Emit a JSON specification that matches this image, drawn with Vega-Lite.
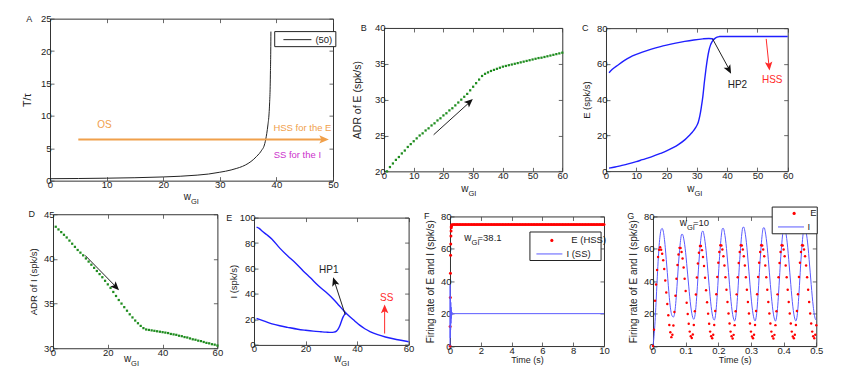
{
"$schema": "https://vega.github.io/schema/vega-lite/v6.json",
"autosize": {"type": "none"},
"padding": {"left": 0, "top": 18.65, "right": 864, "bottom": 368},
"background": "white",
"config": {
  "font": "Liberation Sans",
  "view": {"stroke": "#333333", "strokeWidth": 1},
  "axis": {"domain": false, "grid": false, "tickSize": -4, "tickColor": "#444444", "tickWidth": 0.8, "labelFont": "Liberation Sans", "labelFontSize": 9.5, "labelColor": "#222222", "labelPadding": 3, "labelFlush": false, "labelOverlap": false, "titleFont": "Liberation Sans", "titleFontSize": 10.5, "titleFontWeight": "normal", "titleColor": "#222222"},
  "axisX": {"titleFontSize": 9},
  "legend": {"labelFont": "Liberation Sans", "labelFontSize": 9.5, "labelColor": "#222222", "padding": 0, "title": null},
  "text": {"font": "Liberation Sans", "fontSize": 9.5}
},
"spacing": -1.4,
"resolve": {"scale": {"color": "independent", "stroke": "independent"}},
"vconcat": [
 {
  "spacing": 0, "bounds": "flush", "center": true,
  "resolve": {"scale": {"color": "independent", "stroke": "independent"}},
  "hconcat": [
   {"width": 49.3, "height": 1, "view": {"stroke": null}, "data": {"values": [{}]}, "mark": {"type": "text", "text": " ", "align": "left"}, "encoding": {}},
   {
    "width": 283, "height": 162,
    "resolve": {"axis": {"x": "independent", "y": "independent"}},
    "layer": [
     {"data": {"values": [{"w":0,"T":0.3},{"w":5,"T":0.33},{"w":10,"T":0.38},{"w":15,"T":0.45},{"w":20,"T":0.57},{"w":23,"T":0.68},{"w":26,"T":0.85},{"w":28,"T":1.02},{"w":30,"T":1.3},{"w":31,"T":1.45},{"w":32,"T":1.65},{"w":33,"T":1.9},{"w":34,"T":2.2},{"w":35,"T":2.65},{"w":35.5,"T":2.95},{"w":36,"T":3.3},{"w":36.5,"T":3.75},{"w":37,"T":4.2},{"w":37.4,"T":4.7},{"w":37.8,"T":5.3},{"w":38.1,"T":6.3},{"w":38.3,"T":7.3},{"w":38.5,"T":8.6},{"w":38.7,"T":10.3},{"w":38.8,"T":12},{"w":38.9,"T":14.5},{"w":38.95,"T":17},{"w":39,"T":20},{"w":39.03,"T":23}]},
      "mark": {"type": "line", "strokeWidth": 1, "interpolate": "monotone"},
      "encoding": {
        "x": {"field": "w", "type": "quantitative", "scale": {"domain": [0, 50], "nice": false}, "axis": {"values": [0,10,20,30,40,50], "tickCount": 20, "format": "d", "title": null, "labelOverlap": false}},
        "y": {"field": "T", "type": "quantitative", "scale": {"domain": [0, 25], "nice": false}, "axis": {"values": [0,5,10,15,20,25], "tickCount": 20, "format": "d", "title": "T/τ", "titlePadding": 8, "labelOverlap": false}},
        "color": {"datum": "(50)", "scale": {"range": ["#222222"]}, "legend": {"orient": "none", "legendX": 241.9, "legendY": 15.5, "symbolType": "M-3,0H3", "symbolSize": 87, "symbolStrokeWidth": 1, "labelOffset": 12.5}}
      }},
     {"data": {"values": [{}]}, "mark": {"type": "point", "opacity": 0}, "encoding": {"x": {"datum": 0, "axis": {"orient": "top", "labels": false, "title": null, "values": [0,10,20,30,40,50], "tickCount": 20}}, "y": {"datum": 0, "axis": {"orient": "right", "labels": false, "title": null, "values": [0,5,10,15,20,25], "tickCount": 20}}}},
     {"data": {"values": [{}]}, "mark": {"type": "rect", "fill": "white", "stroke": "#222222", "strokeWidth": 1}, "encoding": {"x": {"datum": 39.7, "axis": null}, "x2": {"datum": 50.5}, "y": {"datum": 23.0, "axis": null}, "y2": {"datum": 20.68}}},
     {"data": {"values": [{}]}, "mark": {"type": "rule", "color": "#f0a04b", "strokeWidth": 2}, "encoding": {"x": {"datum": 5, "axis": null}, "y": {"datum": 6.35, "axis": null}, "x2": {"datum": 48.4}, "y2": {"datum": 6.35}}},
     {"data": {"values": [{}]}, "mark": {"type": "point", "shape": "M0,-1L0.75,0.75L0,0.35L-0.75,0.75Z", "filled": true, "opacity": 1, "color": "#f0a04b", "size": 121, "angle": 90}, "encoding": {"x": {"datum": 48.3, "axis": null}, "y": {"datum": 6.35, "axis": null}}},
     {"data": {"values": [{}]}, "mark": {"type": "text", "text": "OS", "color": "#f0a04b", "fontSize": 10}, "encoding": {"x": {"datum": 9.6, "axis": null}, "y": {"datum": 8.64, "axis": null}}},
     {"data": {"values": [{}]}, "mark": {"type": "text", "text": "HSS for the E", "color": "#f0a04b", "fontSize": 9.5}, "encoding": {"x": {"datum": 44.6, "axis": null}, "y": {"datum": 8.18, "axis": null}}},
     {"data": {"values": [{}]}, "mark": {"type": "text", "text": "SS for the I", "color": "#cc33cc", "fontSize": 9.5}, "encoding": {"x": {"datum": 43.7, "axis": null}, "y": {"datum": 4.0, "axis": null}}},
     {"data": {"values": [{}]}, "mark": {"type": "text", "text": "A", "color": "#222222", "fontSize": 9}, "encoding": {"x": {"datum": -3.67, "axis": null}, "y": {"datum": 25, "axis": null}}},
     {"data": {"values": [{}]}, "mark": {"type": "text", "text": "w", "align": "right", "baseline": "alphabetic", "color": "#222222", "fontSize": 10}, "encoding": {"x": {"datum": 24.9, "axis": null}, "y": {"datum": -2.95, "axis": null}}},
     {"data": {"values": [{}]}, "mark": {"type": "text", "text": "GI", "align": "left", "baseline": "alphabetic", "fontSize": 7.5, "dy": 4, "color": "#222222"}, "encoding": {"x": {"datum": 24.9, "axis": null}, "y": {"datum": -2.95, "axis": null}}}
    ]
   },
   {"width": 50.4, "height": 1, "view": {"stroke": null}, "data": {"values": [{}]}, "mark": {"type": "text", "text": " ", "align": "left"}, "encoding": {}},
   {
    "width": 178.3, "height": 143.4,
    "resolve": {"axis": {"x": "independent", "y": "independent"}},
    "layer": [
     {"data": {"values": [{"w":1,"r":20.0},{"w":2,"r":20.6},{"w":3,"r":21.1},{"w":4,"r":21.6},{"w":5,"r":22.0},{"w":6,"r":22.5},{"w":7,"r":22.9},{"w":8,"r":23.4},{"w":9,"r":23.8},{"w":10,"r":24.2},{"w":11,"r":24.6},{"w":12,"r":25.0},{"w":13,"r":25.3},{"w":14,"r":25.7},{"w":15,"r":26.0},{"w":16,"r":26.4},{"w":17,"r":26.7},{"w":18,"r":27.1},{"w":19,"r":27.4},{"w":20,"r":27.8},{"w":21,"r":28.1},{"w":22,"r":28.5},{"w":23,"r":28.8},{"w":24,"r":29.2},{"w":25,"r":29.6},{"w":26,"r":30.0},{"w":27,"r":30.4},{"w":28,"r":30.8},{"w":29,"r":31.3},{"w":30,"r":31.8},{"w":31,"r":32.3},{"w":32,"r":32.8},{"w":33,"r":33.3},{"w":34,"r":33.6},{"w":35,"r":33.8},{"w":36,"r":34.0},{"w":37,"r":34.15},{"w":38,"r":34.3},{"w":39,"r":34.45},{"w":40,"r":34.6},{"w":41,"r":34.7},{"w":42,"r":34.8},{"w":43,"r":34.9},{"w":44,"r":35.0},{"w":45,"r":35.1},{"w":46,"r":35.2},{"w":47,"r":35.3},{"w":48,"r":35.4},{"w":49,"r":35.5},{"w":50,"r":35.6},{"w":51,"r":35.7},{"w":52,"r":35.8},{"w":53,"r":35.85},{"w":54,"r":35.95},{"w":55,"r":36.05},{"w":56,"r":36.15},{"w":57,"r":36.25},{"w":58,"r":36.35},{"w":59,"r":36.45},{"w":60,"r":36.55}]},
      "mark": {"type": "point", "shape": "square", "filled": true, "opacity": 1, "size": 5, "color": "#1e8c1e"},
      "encoding": {
        "x": {"field": "w", "type": "quantitative", "scale": {"domain": [0, 60], "nice": false}, "axis": {"values": [0,10,20,30,40,50,60], "tickCount": 20, "format": "d", "title": null, "labelOverlap": false}},
        "y": {"field": "r", "type": "quantitative", "scale": {"domain": [20, 40], "nice": false, "zero": false}, "axis": {"values": [20,25,30,35,40], "tickCount": 20, "format": "d", "title": "ADR of E  (spk/s)", "titlePadding": 12, "labelOverlap": false}}
      }},
     {"data": {"values": [{}]}, "mark": {"type": "point", "opacity": 0}, "encoding": {"x": {"datum": 0, "axis": {"orient": "top", "labels": false, "title": null, "values": [0,10,20,30,40,50,60], "tickCount": 20}}, "y": {"datum": 20, "axis": {"orient": "right", "labels": false, "title": null, "values": [20,25,30,35,40], "tickCount": 20}}}},
     {"data": {"values": [{}]}, "mark": {"type": "rule", "color": "#222222", "strokeWidth": 1}, "encoding": {"x": {"datum": 16.7, "axis": null}, "y": {"datum": 25.1, "axis": null}, "x2": {"datum": 28.7}, "y2": {"datum": 29.6}}},
     {"data": {"values": [{}]}, "mark": {"type": "point", "shape": "M0,-1L0.75,0.75L0,0.35L-0.75,0.75Z", "filled": true, "opacity": 1, "color": "#111111", "size": 100, "angle": 47.6}, "encoding": {"x": {"datum": 28.65, "axis": null}, "y": {"datum": 29.63, "axis": null}}},
     {"data": {"values": [{}]}, "mark": {"type": "text", "text": "B", "color": "#222222", "fontSize": 9}, "encoding": {"x": {"datum": -6.8, "axis": null}, "y": {"datum": 40, "axis": null}}},
     {"data": {"values": [{}]}, "mark": {"type": "text", "text": "w", "align": "right", "baseline": "alphabetic", "color": "#222222", "fontSize": 10}, "encoding": {"x": {"datum": 28.4, "axis": null}, "y": {"datum": 17.1, "axis": null}}},
     {"data": {"values": [{}]}, "mark": {"type": "text", "text": "GI", "align": "left", "baseline": "alphabetic", "fontSize": 7.5, "dy": 4, "color": "#222222"}, "encoding": {"x": {"datum": 28.4, "axis": null}, "y": {"datum": 17.1, "axis": null}}}
    ]
   },
   {"width": 42.3, "height": 1, "view": {"stroke": null}, "data": {"values": [{}]}, "mark": {"type": "text", "text": " ", "align": "left"}, "encoding": {}},
   {
    "width": 181.7, "height": 143,
    "resolve": {"axis": {"x": "independent", "y": "independent"}},
    "layer": [
     {"data": {"values": [{"b":"l","w":1,"e":1.7},{"b":"l","w":3,"e":2.3},{"b":"l","w":5,"e":3.1},{"b":"l","w":7,"e":3.9},{"b":"l","w":10,"e":5.3},{"b":"l","w":12,"e":6.4},{"b":"l","w":15,"e":8},{"b":"l","w":18,"e":9.9},{"b":"l","w":20,"e":11.3},{"b":"l","w":22,"e":13},{"b":"l","w":24,"e":15},{"b":"l","w":26,"e":17.5},{"b":"l","w":27.5,"e":20},{"b":"l","w":28.5,"e":21.8},{"b":"l","w":29.7,"e":24.6},{"b":"l","w":30.5,"e":27.5},{"b":"l","w":31,"e":31},{"b":"l","w":31.5,"e":36},{"b":"l","w":32,"e":42},{"b":"l","w":32.5,"e":50},{"b":"l","w":33,"e":57},{"b":"l","w":33.5,"e":63},{"b":"l","w":34,"e":67.5},{"b":"l","w":34.5,"e":70.5},{"b":"l","w":35,"e":72.3},{"b":"l","w":35.5,"e":73.5},{"b":"l","w":36,"e":74.3},{"b":"l","w":36.5,"e":74.8},{"b":"l","w":37,"e":75.1},{"b":"l","w":37.5,"e":75.3},{"b":"l","w":40,"e":75.3},{"b":"l","w":50,"e":75.3},{"b":"l","w":60,"e":75.3},
       {"b":"u","w":1,"e":55},{"b":"u","w":2,"e":56.8},{"b":"u","w":4,"e":59.4},{"b":"u","w":6,"e":61.8},{"b":"u","w":8,"e":63.8},{"b":"u","w":10,"e":65.3},{"b":"u","w":12,"e":66.6},{"b":"u","w":15,"e":68.3},{"b":"u","w":18,"e":69.7},{"b":"u","w":20,"e":70.5},{"b":"u","w":23,"e":71.6},{"b":"u","w":26,"e":72.6},{"b":"u","w":29,"e":73.4},{"b":"u","w":32,"e":74},{"b":"u","w":34,"e":74.2},{"b":"u","w":35,"e":74.1},{"b":"u","w":35.5,"e":73.7}]},
      "mark": {"type": "line", "color": "#1f1fff", "strokeWidth": 1.4, "interpolate": "monotone"},
      "encoding": {
        "x": {"field": "w", "type": "quantitative", "scale": {"domain": [0, 60], "nice": false}, "axis": {"values": [0,10,20,30,40,50,60], "tickCount": 20, "format": "d", "title": null, "labelOverlap": false}},
        "y": {"field": "e", "type": "quantitative", "scale": {"domain": [0, 80], "nice": false}, "axis": {"values": [0,20,40,60,80], "tickCount": 20, "format": "d", "title": "E (spk/s)", "titleFontSize": 9.5, "titlePadding": 5, "labelOverlap": false}},
        "detail": {"field": "b"}
      }},
     {"data": {"values": [{}]}, "mark": {"type": "point", "opacity": 0}, "encoding": {"x": {"datum": 0, "axis": {"orient": "top", "labels": false, "title": null, "values": [0,10,20,30,40,50,60], "tickCount": 20}}, "y": {"datum": 0, "axis": {"orient": "right", "labels": false, "title": null, "values": [0,20,40,60,80], "tickCount": 20}}}},
     {"data": {"values": [{}]}, "mark": {"type": "rule", "color": "#222222", "strokeWidth": 1}, "encoding": {"x": {"datum": 35.2, "axis": null}, "y": {"datum": 74, "axis": null}, "x2": {"datum": 40.6}, "y2": {"datum": 57.2}}},
     {"data": {"values": [{}]}, "mark": {"type": "point", "shape": "M0,-1L0.75,0.75L0,0.35L-0.75,0.75Z", "filled": true, "opacity": 1, "color": "#111111", "size": 100, "angle": 152}, "encoding": {"x": {"datum": 40.53, "axis": null}, "y": {"datum": 56.97, "axis": null}}},
     {"data": {"values": [{}]}, "mark": {"type": "rule", "color": "#ff2a2a", "strokeWidth": 1}, "encoding": {"x": {"datum": 52.9, "axis": null}, "y": {"datum": 74, "axis": null}, "x2": {"datum": 53.8}, "y2": {"datum": 59.3}}},
     {"data": {"values": [{}]}, "mark": {"type": "point", "shape": "M0,-1L0.75,0.75L0,0.35L-0.75,0.75Z", "filled": true, "opacity": 1, "color": "#ff2a2a", "size": 100, "angle": 174}, "encoding": {"x": {"datum": 53.83, "axis": null}, "y": {"datum": 59.08, "axis": null}}},
     {"data": {"values": [{}]}, "mark": {"type": "text", "text": "HP2", "color": "#222222", "fontSize": 10}, "encoding": {"x": {"datum": 43.4, "axis": null}, "y": {"datum": 48.3, "axis": null}}},
     {"data": {"values": [{}]}, "mark": {"type": "text", "text": "HSS", "color": "#ff2a2a", "fontSize": 10}, "encoding": {"x": {"datum": 54.9, "axis": null}, "y": {"datum": 50.9, "axis": null}}},
     {"data": {"values": [{}]}, "mark": {"type": "text", "text": "C", "color": "#222222", "fontSize": 9}, "encoding": {"x": {"datum": -6.87, "axis": null}, "y": {"datum": 80, "axis": null}}},
     {"data": {"values": [{}]}, "mark": {"type": "text", "text": "w", "align": "right", "baseline": "alphabetic", "color": "#222222", "fontSize": 10}, "encoding": {"x": {"datum": 29.2, "axis": null}, "y": {"datum": -11.6, "axis": null}}},
     {"data": {"values": [{}]}, "mark": {"type": "text", "text": "GI", "align": "left", "baseline": "alphabetic", "fontSize": 7.5, "dy": 4, "color": "#222222"}, "encoding": {"x": {"datum": 29.2, "axis": null}, "y": {"datum": -11.6, "axis": null}}}
    ]
   }
  ]
 },
 {
  "spacing": 0, "bounds": "flush", "center": true,
  "resolve": {"scale": {"color": "independent", "stroke": "independent"}},
  "hconcat": [
   {"width": 52.3, "height": 1, "view": {"stroke": null}, "data": {"values": [{}]}, "mark": {"type": "text", "text": " ", "align": "left"}, "encoding": {}},
   {
    "width": 164.4, "height": 134,
    "resolve": {"axis": {"x": "independent", "y": "independent"}},
    "layer": [
     {"data": {"values": [{"w":1,"r":43.6},{"w":2,"r":43.3},{"w":3,"r":43.0},{"w":4,"r":42.7},{"w":5,"r":42.4},{"w":6,"r":42.05},{"w":7,"r":41.7},{"w":8,"r":41.35},{"w":9,"r":41.0},{"w":10,"r":40.7},{"w":11,"r":40.4},{"w":12,"r":40.05},{"w":13,"r":39.7},{"w":14,"r":39.35},{"w":15,"r":39.0},{"w":16,"r":38.65},{"w":17,"r":38.3},{"w":18,"r":37.95},{"w":19,"r":37.55},{"w":20,"r":37.15},{"w":21,"r":36.75},{"w":22,"r":36.3},{"w":23,"r":35.85},{"w":24,"r":35.4},{"w":25,"r":35.0},{"w":26,"r":34.6},{"w":27,"r":34.2},{"w":28,"r":33.8},{"w":29,"r":33.45},{"w":30,"r":33.1},{"w":31,"r":32.8},{"w":32,"r":32.5},{"w":33,"r":32.25},{"w":34,"r":32.1},{"w":35,"r":32.05},{"w":36,"r":32.0},{"w":37,"r":31.95},{"w":38,"r":31.9},{"w":39,"r":31.85},{"w":40,"r":31.8},{"w":41,"r":31.75},{"w":42,"r":31.7},{"w":43,"r":31.6},{"w":44,"r":31.55},{"w":45,"r":31.5},{"w":46,"r":31.4},{"w":47,"r":31.35},{"w":48,"r":31.25},{"w":49,"r":31.2},{"w":50,"r":31.1},{"w":51,"r":31.0},{"w":52,"r":30.95},{"w":53,"r":30.85},{"w":54,"r":30.8},{"w":55,"r":30.7},{"w":56,"r":30.6},{"w":57,"r":30.55},{"w":58,"r":30.45},{"w":59,"r":30.4},{"w":60,"r":30.3}]},
      "mark": {"type": "point", "shape": "square", "filled": true, "opacity": 1, "size": 5, "color": "#1e8c1e"},
      "encoding": {
        "x": {"field": "w", "type": "quantitative", "scale": {"domain": [0, 60], "nice": false}, "axis": {"values": [0,20,40,60], "tickCount": 20, "format": "d", "title": null, "labelOverlap": false}},
        "y": {"field": "r", "type": "quantitative", "scale": {"domain": [30, 45], "nice": false, "zero": false}, "axis": {"values": [30,35,40,45], "tickCount": 20, "format": "d", "title": "ADR of I  (spk/s)", "titleFontSize": 9.5, "titlePadding": 5, "labelOverlap": false}}
      }},
     {"data": {"values": [{}]}, "mark": {"type": "point", "opacity": 0}, "encoding": {"x": {"datum": 0, "axis": {"orient": "top", "labels": false, "title": null, "values": [0,20,40,60], "tickCount": 20}}, "y": {"datum": 30, "axis": {"orient": "right", "labels": false, "title": null, "values": [30,35,40,45], "tickCount": 20}}}},
     {"data": {"values": [{}]}, "mark": {"type": "rule", "color": "#222222", "strokeWidth": 1}, "encoding": {"x": {"datum": 11.7, "axis": null}, "y": {"datum": 40.4, "axis": null}, "x2": {"datum": 22.9}, "y2": {"datum": 36.9}}},
     {"data": {"values": [{}]}, "mark": {"type": "point", "shape": "M0,-1L0.75,0.75L0,0.35L-0.75,0.75Z", "filled": true, "opacity": 1, "color": "#111111", "size": 100, "angle": 135.7}, "encoding": {"x": {"datum": 22.82, "axis": null}, "y": {"datum": 36.9, "axis": null}}},
     {"data": {"values": [{}]}, "mark": {"type": "text", "text": "D", "color": "#222222", "fontSize": 9}, "encoding": {"x": {"datum": -7.77, "axis": null}, "y": {"datum": 45, "axis": null}}},
     {"data": {"values": [{}]}, "mark": {"type": "text", "text": "w", "align": "right", "baseline": "alphabetic", "color": "#222222", "fontSize": 10}, "encoding": {"x": {"datum": 28.5, "axis": null}, "y": {"datum": 28.45, "axis": null}}},
     {"data": {"values": [{}]}, "mark": {"type": "text", "text": "GI", "align": "left", "baseline": "alphabetic", "fontSize": 7.5, "dy": 4, "color": "#222222"}, "encoding": {"x": {"datum": 28.5, "axis": null}, "y": {"datum": 28.45, "axis": null}}}
    ]
   },
   {"width": 36, "height": 1, "view": {"stroke": null}, "data": {"values": [{}]}, "mark": {"type": "text", "text": " ", "align": "left"}, "encoding": {}},
   {
    "width": 154.6, "height": 127.3,
    "resolve": {"axis": {"x": "independent", "y": "independent"}},
    "layer": [
     {"data": {"values": [{"b":"u","w":1,"i":92.5},{"b":"u","w":2,"i":91.5},{"b":"u","w":3,"i":89.6},{"b":"u","w":5,"i":86.5},{"b":"u","w":7,"i":83},{"b":"u","w":10,"i":76},{"b":"u","w":13,"i":70},{"b":"u","w":16,"i":64.5},{"b":"u","w":19,"i":58.3},{"b":"u","w":22,"i":52.5},{"b":"u","w":25,"i":46.5},{"b":"u","w":28,"i":41.3},{"b":"u","w":31,"i":35.5},{"b":"u","w":33,"i":31},{"b":"u","w":35,"i":26.5},{"b":"u","w":37,"i":22.5},{"b":"u","w":39,"i":19},{"b":"u","w":41,"i":15.5},{"b":"u","w":43,"i":12.7},{"b":"u","w":45,"i":10.5},{"b":"u","w":48,"i":8},{"b":"u","w":51,"i":6.2},{"b":"u","w":54,"i":4.8},{"b":"u","w":57,"i":3.6},{"b":"u","w":60,"i":2.5},
       {"b":"l","w":1,"i":20.8},{"b":"l","w":4,"i":18.6},{"b":"l","w":7,"i":16.5},{"b":"l","w":10,"i":15},{"b":"l","w":13,"i":13.8},{"b":"l","w":17,"i":12.3},{"b":"l","w":20,"i":11.5},{"b":"l","w":23,"i":10.8},{"b":"l","w":26,"i":10.3},{"b":"l","w":28,"i":10},{"b":"l","w":30,"i":9.8},{"b":"l","w":31,"i":10},{"b":"l","w":32,"i":10.8},{"b":"l","w":32.7,"i":12.5},{"b":"l","w":33.3,"i":15},{"b":"l","w":34,"i":19},{"b":"l","w":34.6,"i":22},{"b":"l","w":35.2,"i":24},{"b":"l","w":35.6,"i":24.8}]},
      "mark": {"type": "line", "color": "#1f1fff", "strokeWidth": 1.4, "interpolate": "monotone"},
      "encoding": {
        "x": {"field": "w", "type": "quantitative", "scale": {"domain": [0, 60], "nice": false}, "axis": {"values": [0,20,40,60], "tickCount": 20, "format": "d", "title": null, "labelOverlap": false}},
        "y": {"field": "i", "type": "quantitative", "scale": {"domain": [0, 100], "nice": false}, "axis": {"values": [0,20,40,60,80,100], "tickCount": 20, "format": "d", "title": "I (spk/s)", "titleFontSize": 9.5, "titlePadding": 1, "labelOverlap": false}},
        "detail": {"field": "b"}
      }},
     {"data": {"values": [{}]}, "mark": {"type": "point", "opacity": 0}, "encoding": {"x": {"datum": 0, "axis": {"orient": "top", "labels": false, "title": null, "values": [0,20,40,60], "tickCount": 20}}, "y": {"datum": 0, "axis": {"orient": "right", "labels": false, "title": null, "values": [0,20,40,60,80,100], "tickCount": 20}}}},
     {"data": {"values": [{}]}, "mark": {"type": "rule", "color": "#222222", "strokeWidth": 1}, "encoding": {"x": {"datum": 35.4, "axis": null}, "y": {"datum": 23.8, "axis": null}, "x2": {"datum": 31.3}, "y2": {"datum": 49.3}}},
     {"data": {"values": [{}]}, "mark": {"type": "point", "shape": "M0,-1L0.75,0.75L0,0.35L-0.75,0.75Z", "filled": true, "opacity": 1, "color": "#111111", "size": 100, "angle": -18}, "encoding": {"x": {"datum": 31.3, "axis": null}, "y": {"datum": 49.35, "axis": null}}},
     {"data": {"values": [{}]}, "mark": {"type": "rule", "color": "#ff2a2a", "strokeWidth": 1}, "encoding": {"x": {"datum": 50.7, "axis": null}, "y": {"datum": 8.9, "axis": null}, "x2": {"datum": 50.7}, "y2": {"datum": 28}}},
     {"data": {"values": [{}]}, "mark": {"type": "point", "shape": "M0,-1L0.75,0.75L0,0.35L-0.75,0.75Z", "filled": true, "opacity": 1, "color": "#ff2a2a", "size": 100, "angle": 0}, "encoding": {"x": {"datum": 50.7, "axis": null}, "y": {"datum": 27.8, "axis": null}}},
     {"data": {"values": [{}]}, "mark": {"type": "text", "text": "HP1", "color": "#222222", "fontSize": 10}, "encoding": {"x": {"datum": 29.0, "axis": null}, "y": {"datum": 59.2, "axis": null}}},
     {"data": {"values": [{}]}, "mark": {"type": "text", "text": "SS", "color": "#ff2a2a", "fontSize": 10}, "encoding": {"x": {"datum": 51.5, "axis": null}, "y": {"datum": 36.9, "axis": null}}},
     {"data": {"values": [{}]}, "mark": {"type": "text", "text": "E", "color": "#222222", "fontSize": 9}, "encoding": {"x": {"datum": -9.6, "axis": null}, "y": {"datum": 100, "axis": null}}},
     {"data": {"values": [{}]}, "mark": {"type": "text", "text": "w", "align": "right", "baseline": "alphabetic", "color": "#222222", "fontSize": 10}, "encoding": {"x": {"datum": 33.9, "axis": null}, "y": {"datum": -13.7, "axis": null}}},
     {"data": {"values": [{}]}, "mark": {"type": "text", "text": "GI", "align": "left", "baseline": "alphabetic", "fontSize": 7.5, "dy": 4, "color": "#222222"}, "encoding": {"x": {"datum": 33.9, "axis": null}, "y": {"datum": -13.7, "axis": null}}}
    ]
   },
   {"width": 41, "height": 1, "view": {"stroke": null}, "data": {"values": [{}]}, "mark": {"type": "text", "text": " ", "align": "left"}, "encoding": {}},
   {
    "width": 154, "height": 129.6,
    "resolve": {"axis": {"x": "independent", "y": "independent"}},
    "layer": [
     {"data": {"values": [{"t":0,"v":0},{"t":0.01,"v":12},{"t":0.02,"v":30},{"t":0.03,"v":45},{"t":0.04,"v":56},{"t":0.05,"v":63},{"t":0.06,"v":68},{"t":0.07,"v":71},{"t":0.08,"v":73},{"t":0.09,"v":74},{"t":0.1,"v":74.8},{"t":0.2,"v":75.1},{"t":0.3,"v":75.1},{"t":0.4,"v":75.1},{"t":0.5,"v":75.1},{"t":0.6,"v":75.1},{"t":0.7,"v":75.1},{"t":0.8,"v":75.1},{"t":0.9,"v":75.1},{"t":1.0,"v":75.1},{"t":1.1,"v":75.1},{"t":1.2,"v":75.1},{"t":1.3,"v":75.1},{"t":1.4,"v":75.1},{"t":1.5,"v":75.1},{"t":1.6,"v":75.1},{"t":1.7,"v":75.1},{"t":1.8,"v":75.1},{"t":1.9,"v":75.1},{"t":2.0,"v":75.1},{"t":2.1,"v":75.1},{"t":2.2,"v":75.1},{"t":2.3,"v":75.1},{"t":2.4,"v":75.1},{"t":2.5,"v":75.1},{"t":2.6,"v":75.1},{"t":2.7,"v":75.1},{"t":2.8,"v":75.1},{"t":2.9,"v":75.1},{"t":3.0,"v":75.1},{"t":3.1,"v":75.1},{"t":3.2,"v":75.1},{"t":3.3,"v":75.1},{"t":3.4,"v":75.1},{"t":3.5,"v":75.1},{"t":3.6,"v":75.1},{"t":3.7,"v":75.1},{"t":3.8,"v":75.1},{"t":3.9,"v":75.1},{"t":4.0,"v":75.1},{"t":4.1,"v":75.1},{"t":4.2,"v":75.1},{"t":4.3,"v":75.1},{"t":4.4,"v":75.1},{"t":4.5,"v":75.1},{"t":4.6,"v":75.1},{"t":4.7,"v":75.1},{"t":4.8,"v":75.1},{"t":4.9,"v":75.1},{"t":5.0,"v":75.1},{"t":5.1,"v":75.1},{"t":5.2,"v":75.1},{"t":5.3,"v":75.1},{"t":5.4,"v":75.1},{"t":5.5,"v":75.1},{"t":5.6,"v":75.1},{"t":5.7,"v":75.1},{"t":5.8,"v":75.1},{"t":5.9,"v":75.1},{"t":6.0,"v":75.1},{"t":6.1,"v":75.1},{"t":6.2,"v":75.1},{"t":6.3,"v":75.1},{"t":6.4,"v":75.1},{"t":6.5,"v":75.1},{"t":6.6,"v":75.1},{"t":6.7,"v":75.1},{"t":6.8,"v":75.1},{"t":6.9,"v":75.1},{"t":7.0,"v":75.1},{"t":7.1,"v":75.1},{"t":7.2,"v":75.1},{"t":7.3,"v":75.1},{"t":7.4,"v":75.1},{"t":7.5,"v":75.1},{"t":7.6,"v":75.1},{"t":7.7,"v":75.1},{"t":7.8,"v":75.1},{"t":7.9,"v":75.1},{"t":8.0,"v":75.1},{"t":8.1,"v":75.1},{"t":8.2,"v":75.1},{"t":8.3,"v":75.1},{"t":8.4,"v":75.1},{"t":8.5,"v":75.1},{"t":8.6,"v":75.1},{"t":8.7,"v":75.1},{"t":8.8,"v":75.1},{"t":8.9,"v":75.1},{"t":9.0,"v":75.1},{"t":9.1,"v":75.1},{"t":9.2,"v":75.1},{"t":9.3,"v":75.1},{"t":9.4,"v":75.1},{"t":9.5,"v":75.1},{"t":9.6,"v":75.1},{"t":9.7,"v":75.1},{"t":9.8,"v":75.1},{"t":9.9,"v":75.1},{"t":10.0,"v":75.1}]},
      "mark": {"type": "point", "shape": "circle", "filled": true, "opacity": 1, "size": 9},
      "encoding": {
        "x": {"field": "t", "type": "quantitative", "scale": {"domain": [0, 10], "nice": false}, "axis": {"values": [0,2,4,6,8,10], "tickCount": 20, "format": "d", "title": "Time (s)", "titlePadding": 1, "labelOverlap": false}},
        "y": {"field": "v", "type": "quantitative", "scale": {"domain": [0, 80], "nice": false}, "axis": {"values": [0,20,40,60,80], "tickCount": 20, "format": "d", "title": "Firing rate of E and I  (spk/s)", "titleFontSize": 10, "titlePadding": 5, "labelOverlap": false}},
        "color": {"datum": "E (HSS)", "scale": {"range": ["#ff0000"]}, "legend": {"orient": "none", "legendX": 97.1, "legendY": 19.25, "symbolType": "circle", "symbolSize": 10, "symbolStrokeWidth": 0, "labelOffset": 14.7}}
      }},
     {"data": {"values": [{}]}, "mark": {"type": "point", "opacity": 0}, "encoding": {"x": {"datum": 0, "axis": {"orient": "top", "labels": false, "title": null, "values": [0,2,4,6,8,10], "tickCount": 20}}, "y": {"datum": 0, "axis": {"orient": "right", "labels": false, "title": null, "values": [0,20,40,60,80], "tickCount": 20}}}},
     {"data": {"values": [{"t":0,"v":0},{"t":0.005,"v":20},{"t":0.01,"v":38},{"t":0.015,"v":22},{"t":0.02,"v":5},{"t":0.03,"v":30},{"t":0.04,"v":10},{"t":0.05,"v":27},{"t":0.06,"v":14},{"t":0.07,"v":24},{"t":0.08,"v":17},{"t":0.09,"v":22},{"t":0.1,"v":18.5},{"t":0.12,"v":21},{"t":0.15,"v":19.6},{"t":0.2,"v":20},{"t":10,"v":20}]},
      "mark": {"type": "line", "strokeWidth": 1},
      "encoding": {"x": {"field": "t", "type": "quantitative", "axis": null}, "y": {"field": "v", "type": "quantitative", "axis": null},
        "stroke": {"datum": "I  (SS)", "scale": {"range": ["#5a5aff"]}, "legend": {"orient": "none", "legendX": 94.4, "legendY": 32.5, "symbolType": "M-3,0H3", "symbolSize": 75, "symbolStrokeWidth": 1, "labelOffset": 12}}}},
     {"data": {"values": [{}]}, "mark": {"type": "rect", "fill": "white", "stroke": "#222222", "strokeWidth": 1}, "encoding": {"x": {"datum": 5.19, "axis": null}, "x2": {"datum": 9.81}, "y": {"datum": 70.4, "axis": null}, "y2": {"datum": 52.8}}},
     {"data": {"values": [{}]}, "mark": {"type": "text", "text": "F", "color": "#222222", "fontSize": 9}, "encoding": {"x": {"datum": -1.51, "axis": null}, "y": {"datum": 80, "axis": null}}},
     {"data": {"values": [{}]}, "mark": {"type": "text", "text": "w", "align": "right", "baseline": "alphabetic", "color": "#222222", "fontSize": 10}, "encoding": {"x": {"datum": 1.4, "axis": null}, "y": {"datum": 65.1, "axis": null}}},
     {"data": {"values": [{}]}, "mark": {"type": "text", "text": "GI", "align": "left", "baseline": "alphabetic", "fontSize": 7.5, "dy": 4, "color": "#222222"}, "encoding": {"x": {"datum": 1.4, "axis": null}, "y": {"datum": 65.1, "axis": null}}},
     {"data": {"values": [{}]}, "mark": {"type": "text", "text": "=38.1", "align": "left", "baseline": "alphabetic", "dx": 6, "color": "#222222", "fontSize": 9.5}, "encoding": {"x": {"datum": 1.4, "axis": null}, "y": {"datum": 65.1, "axis": null}}}
    ]
   },
   {"width": 48.7, "height": 1, "view": {"stroke": null}, "data": {"values": [{}]}, "mark": {"type": "text", "text": " ", "align": "left"}, "encoding": {}},
   {
    "width": 163.3, "height": 129.6,
    "resolve": {"axis": {"x": "independent", "y": "independent"}},
    "data": {"values": [
{"t":0,"E":0,"I":0},{"t":0.0031,"E":10,"I":6},{"t":0.0063,"E":28,"I":15},{"t":0.0094,"E":38,"I":27},{"t":0.0125,"E":47,"I":40},{"t":0.0156,"E":55,"I":52},{"t":0.0188,"E":59.5,"I":62},{"t":0.0219,"E":61,"I":68.5},{"t":0.025,"E":59.5,"I":72},{"t":0.0281,"E":57,"I":72.6},{"t":0.0313,"E":53,"I":71},{"t":0.0344,"E":47.5,"I":67},{"t":0.0375,"E":40.5,"I":61},{"t":0.0406,"E":33,"I":53.5},{"t":0.0438,"E":26,"I":45.5},{"t":0.0469,"E":19,"I":37.5},{"t":0.05,"E":13,"I":30},{"t":0.0531,"E":8.5,"I":24},{"t":0.0563,"E":5.5,"I":20},{"t":0.0594,"E":7,"I":18.3},
{"t":0.0625,"E":12.7,"I":17.9},{"t":0.0656,"E":21,"I":19.5},{"t":0.0688,"E":31,"I":24.5},{"t":0.0719,"E":41.5,"I":32.3},{"t":0.075,"E":50,"I":41.5},{"t":0.0781,"E":56.5,"I":50.9},{"t":0.0813,"E":60.6,"I":58.8},{"t":0.0844,"E":60.5,"I":65.2},{"t":0.0875,"E":58.1,"I":68.9},{"t":0.0906,"E":54,"I":68.9},{"t":0.0938,"E":48.5,"I":66.6},{"t":0.0969,"E":41.5,"I":62.8},{"t":0.1,"E":34,"I":57.6},{"t":0.1031,"E":26.7,"I":51},{"t":0.1063,"E":19.8,"I":43.9},{"t":0.1094,"E":13.7,"I":37},{"t":0.1125,"E":8.9,"I":30.4},{"t":0.1156,"E":6.1,"I":24.7},{"t":0.1188,"E":5,"I":20.2},{"t":0.1219,"E":7.1,"I":17.5},
{"t":0.125,"E":13,"I":16.5},{"t":0.1281,"E":21.5,"I":18.4},{"t":0.1313,"E":31.8,"I":23.8},{"t":0.1344,"E":42.3,"I":32},{"t":0.1375,"E":51,"I":42},{"t":0.1406,"E":57.6,"I":51.8},{"t":0.1438,"E":61.8,"I":60.1},{"t":0.1469,"E":61.7,"I":66.6},{"t":0.15,"E":59.2,"I":70.5},{"t":0.1531,"E":55,"I":71},{"t":0.1563,"E":49.4,"I":68.4},{"t":0.1594,"E":42.2,"I":64.4},{"t":0.1625,"E":34.5,"I":59},{"t":0.1656,"E":27,"I":52.1},{"t":0.1688,"E":20,"I":44.6},{"t":0.1719,"E":13.8,"I":37.4},{"t":0.175,"E":8.9,"I":30.5},{"t":0.1781,"E":6,"I":24.4},{"t":0.1813,"E":4.8,"I":19.8},{"t":0.1844,"E":7,"I":17},
{"t":0.1875,"E":13,"I":16},{"t":0.1906,"E":21.6,"I":17.9},{"t":0.1938,"E":32,"I":23.6},{"t":0.1969,"E":42.6,"I":32.2},{"t":0.2,"E":51.4,"I":42.6},{"t":0.2031,"E":58.1,"I":52.9},{"t":0.2063,"E":62.2,"I":61.6},{"t":0.2094,"E":62.1,"I":68.5},{"t":0.2125,"E":59.6,"I":72.5},{"t":0.2156,"E":55.4,"I":72.6},{"t":0.2188,"E":49.7,"I":70.1},{"t":0.2219,"E":42.5,"I":66},{"t":0.225,"E":34.7,"I":60.3},{"t":0.2281,"E":27.2,"I":53.1},{"t":0.2313,"E":20.1,"I":45.3},{"t":0.2344,"E":13.9,"I":37.8},{"t":0.2375,"E":8.9,"I":30.7},{"t":0.2406,"E":6,"I":24.4},{"t":0.2438,"E":4.7,"I":19.6},{"t":0.2469,"E":6.9,"I":16.7},
{"t":0.25,"E":12.9,"I":15.5},{"t":0.2531,"E":21.5,"I":17.5},{"t":0.2563,"E":31.9,"I":23.5},{"t":0.2594,"E":42.5,"I":32.4},{"t":0.2625,"E":51.3,"I":42.9},{"t":0.2656,"E":58,"I":53.4},{"t":0.2688,"E":62.2,"I":62.2},{"t":0.2719,"E":62.1,"I":69.2},{"t":0.275,"E":59.6,"I":73.2},{"t":0.2781,"E":55.4,"I":73.4},{"t":0.2813,"E":49.7,"I":70.9},{"t":0.2844,"E":42.5,"I":66.7},{"t":0.2875,"E":34.7,"I":61},{"t":0.2906,"E":27.2,"I":53.7},{"t":0.2938,"E":20.1,"I":45.8},{"t":0.2969,"E":13.9,"I":38.2},{"t":0.3,"E":8.9,"I":31},{"t":0.3031,"E":5.9,"I":24.7},{"t":0.3063,"E":4.8,"I":19.8},{"t":0.3094,"E":7,"I":16.8},
{"t":0.3125,"E":13,"I":15.5},{"t":0.3156,"E":21.6,"I":17.5},{"t":0.3188,"E":32,"I":23.4},{"t":0.3219,"E":42.6,"I":32.3},{"t":0.325,"E":51.4,"I":42.8},{"t":0.3281,"E":58.1,"I":53.2},{"t":0.3313,"E":62.2,"I":61.9},{"t":0.3344,"E":62.1,"I":68.9},{"t":0.3375,"E":59.6,"I":72.9},{"t":0.3406,"E":55.4,"I":73},{"t":0.3438,"E":49.7,"I":70.5},{"t":0.3469,"E":42.5,"I":66.3},{"t":0.35,"E":34.7,"I":60.6},{"t":0.3531,"E":27.2,"I":53.4},{"t":0.3563,"E":20.1,"I":45.6},{"t":0.3594,"E":13.9,"I":38},{"t":0.3625,"E":8.9,"I":30.8},{"t":0.3656,"E":6,"I":24.6},{"t":0.3688,"E":4.7,"I":19.7},{"t":0.3719,"E":6.9,"I":16.7},
{"t":0.375,"E":12.9,"I":15.4},{"t":0.3781,"E":21.5,"I":17.4},{"t":0.3813,"E":31.9,"I":23.3},{"t":0.3844,"E":42.5,"I":32.2},{"t":0.3875,"E":51.3,"I":42.7},{"t":0.3906,"E":58,"I":53.1},{"t":0.3938,"E":62.2,"I":61.8},{"t":0.3969,"E":62.1,"I":68.8},{"t":0.4,"E":59.6,"I":72.8},{"t":0.4031,"E":55.4,"I":73},{"t":0.4063,"E":49.7,"I":70.5},{"t":0.4094,"E":42.5,"I":66.4},{"t":0.4125,"E":34.7,"I":60.6},{"t":0.4156,"E":27.2,"I":53.4},{"t":0.4188,"E":20.1,"I":45.6},{"t":0.4219,"E":13.9,"I":38},{"t":0.425,"E":8.9,"I":30.8},{"t":0.4281,"E":5.9,"I":24.6},{"t":0.4313,"E":4.8,"I":19.7},{"t":0.4344,"E":7,"I":16.7},
{"t":0.4375,"E":13,"I":15.5},{"t":0.4406,"E":21.6,"I":17.5},{"t":0.4438,"E":32,"I":23.4},{"t":0.4469,"E":42.6,"I":32.3},{"t":0.45,"E":51.4,"I":42.8},{"t":0.4531,"E":58.1,"I":53.2},{"t":0.4563,"E":62.2,"I":61.9},{"t":0.4594,"E":62.1,"I":68.9},{"t":0.4625,"E":59.6,"I":72.9},{"t":0.4656,"E":55.4,"I":73},{"t":0.4688,"E":49.7,"I":70.5},{"t":0.4719,"E":42.5,"I":66.3},{"t":0.475,"E":34.7,"I":60.6},{"t":0.4781,"E":27.2,"I":53.4},{"t":0.4813,"E":20.1,"I":45.6},{"t":0.4844,"E":13.9,"I":38},{"t":0.4875,"E":8.9,"I":30.8},{"t":0.4906,"E":6,"I":24.6},{"t":0.4938,"E":4.8,"I":19.7},{"t":0.4969,"E":7,"I":16.8},
{"t":0.5,"E":12.8,"I":16}
    ]},
    "layer": [
     {"mark": {"type": "line", "strokeWidth": 1, "interpolate": "monotone"},
      "encoding": {
        "x": {"field": "t", "type": "quantitative", "scale": {"domain": [0, 0.5], "nice": false}, "axis": {"values": [0,0.1,0.2,0.3,0.4,0.5], "tickCount": 20, "format": "~g", "title": "Time (s)", "titlePadding": 1, "labelOverlap": false}},
        "y": {"field": "I", "type": "quantitative", "scale": {"domain": [0, 80], "nice": false}, "axis": {"values": [0,20,40,60,80], "tickCount": 20, "format": "d", "title": "Firing rate of E and I  (spk/s)", "titleFontSize": 10, "titlePadding": 5, "labelOverlap": false}},
        "stroke": {"datum": "I", "scale": {"range": ["#5a5aff"]}, "legend": {"orient": "none", "legendX": 133, "legendY": 5.5, "symbolType": "M-3,0H3", "symbolSize": 75, "symbolStrokeWidth": 1, "labelOffset": 11.6}}
      }},
     {"data": {"values": [{}]}, "mark": {"type": "point", "opacity": 0}, "encoding": {"x": {"datum": 0, "axis": {"orient": "top", "labels": false, "title": null, "values": [0,0.1,0.2,0.3,0.4,0.5], "tickCount": 20}}, "y": {"datum": 0, "axis": {"orient": "right", "labels": false, "title": null, "values": [0,20,40,60,80], "tickCount": 20}}}},
     {"mark": {"type": "point", "shape": "circle", "filled": true, "opacity": 1, "size": 6},
      "encoding": {"x": {"field": "t", "type": "quantitative", "axis": null}, "y": {"field": "E", "type": "quantitative", "axis": null},
        "color": {"datum": "E", "scale": {"range": ["#ff0000"]}, "legend": {"orient": "none", "legendX": 136.4, "legendY": -7.75, "symbolType": "circle", "symbolSize": 10, "symbolStrokeWidth": 0, "labelOffset": 11.4}}}},
     {"data": {"values": [{}]}, "mark": {"type": "rect", "fill": "white", "stroke": "#222222", "strokeWidth": 1}, "encoding": {"x": {"datum": 0.365, "axis": null}, "x2": {"datum": 0.503}, "y": {"datum": 85.8, "axis": null}, "y2": {"datum": 69.3}}},
     {"data": {"values": [{}]}, "mark": {"type": "text", "text": "G", "color": "#222222", "fontSize": 9}, "encoding": {"x": {"datum": -0.068, "axis": null}, "y": {"datum": 80, "axis": null}}},
     {"data": {"values": [{}]}, "mark": {"type": "text", "text": "w", "align": "right", "baseline": "alphabetic", "color": "#222222", "fontSize": 10}, "encoding": {"x": {"datum": 0.104, "axis": null}, "y": {"datum": 73.8, "axis": null}}},
     {"data": {"values": [{}]}, "mark": {"type": "text", "text": "GI", "align": "left", "baseline": "alphabetic", "fontSize": 7.5, "dy": 4, "color": "#222222"}, "encoding": {"x": {"datum": 0.104, "axis": null}, "y": {"datum": 73.8, "axis": null}}},
     {"data": {"values": [{}]}, "mark": {"type": "text", "text": "=10", "align": "left", "baseline": "alphabetic", "dx": 6, "color": "#222222", "fontSize": 9.5}, "encoding": {"x": {"datum": 0.104, "axis": null}, "y": {"datum": 73.8, "axis": null}}}
    ]
   }
  ]
 }
]
}
